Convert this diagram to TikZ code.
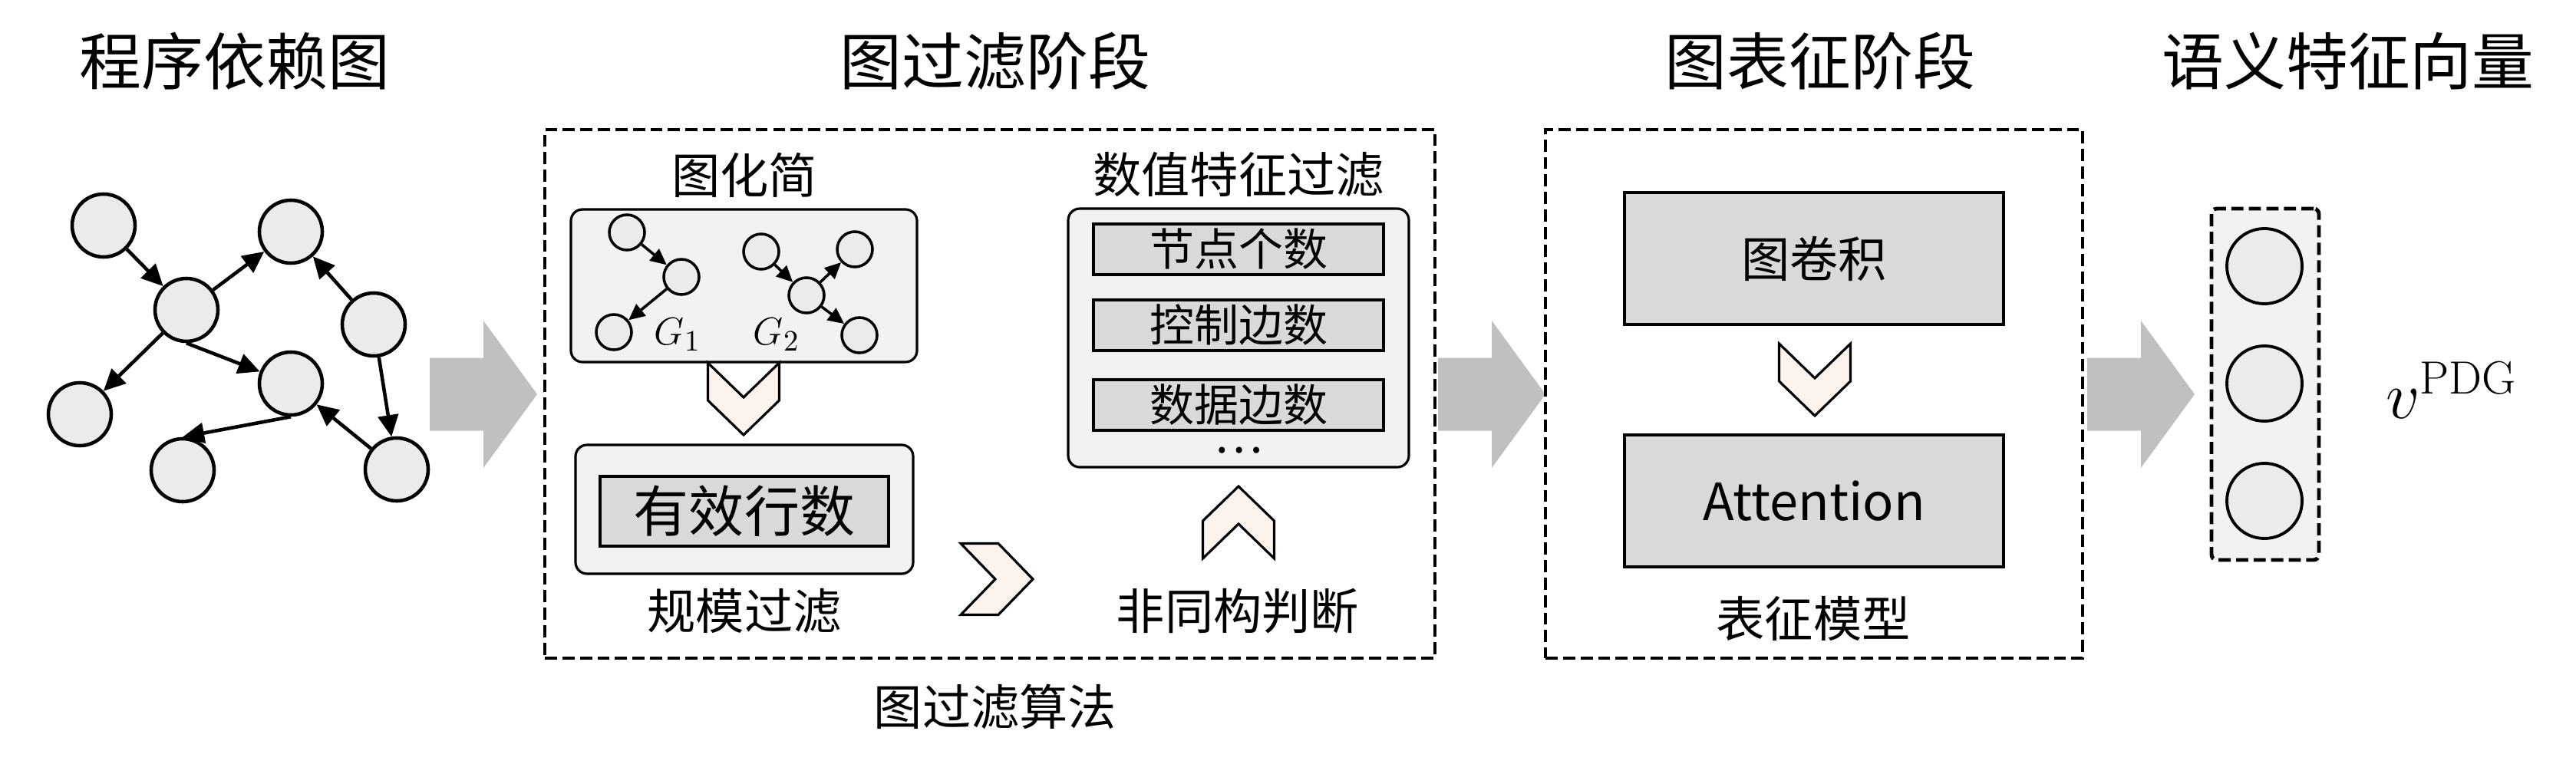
\documentclass[tikz,border=0pt]{standalone}
\usepackage[no-math]{fontspec}
\setmainfont{Noto Sans CJK SC}
\usepackage{tikz}
\usetikzlibrary{arrows.meta}
\definecolor{vertexgray}{RGB}{235,235,235}
\definecolor{panelgray}{RGB}{242,242,242}
\definecolor{cellgray}{RGB}{217,217,217}
\definecolor{fatgray}{RGB}{192,191,193}
\definecolor{chevcream}{RGB}{251,243,236}
\tikzset{vertex/.style={draw, circle, fill=vertexgray, line width=1.3pt, minimum size=0.82cm, inner sep=0}}
\tikzset{small vertex/.style={draw, circle, fill=vertexgray, line width=1pt, minimum size=0.46cm, inner sep=0}}
\tikzset{out vertex/.style={draw, circle, fill=vertexgray, line width=1.1pt, minimum size=0.98cm, inner sep=0}}
\tikzset{stage box/.style={draw, line width=1.4pt, dash pattern=on 4.5pt off 2pt, inner sep=0}}
\tikzset{panel/.style={draw, fill=panelgray, rounded corners=0.15cm, line width=0.9pt, inner sep=0}}
\tikzset{cell/.style={draw, fill=cellgray, line width=0.9pt, inner sep=0}}
\tikzset{title/.style={font=\fontsize{23}{28}\selectfont}}
\tikzset{caption/.style={font=\fontsize{18}{22}\selectfont}}
\tikzset{link/.style={-{Triangle[length=8pt, width=7.5pt]}, line width=1.3pt}}
\tikzset{small link/.style={-{Triangle[length=6pt, width=5.5pt]}, line width=1pt}}
\tikzset{chevron/.pic={\draw[fill=chevcream, line width=0.9pt] (-0.465, 0.47) -- (-0.465, -0.02) -- (0, -0.47) -- (0.465, -0.02) -- (0.465, 0.47) -- (0, 0.02) -- cycle;}}
\tikzset{fat arrow/.pic={\fill[fatgray] (0, 0.475) -- (0.7, 0.475) -- (0.7, 0.96) -- (1.4, 0) -- (0.7, -0.96) -- (0.7, -0.475) -- (0, -0.475) -- cycle;}}

\begin{document}
\begin{tikzpicture}
  \useasboundingbox (0, 0) rectangle (33.57, -9.96);

  \node[title] at (3.06, -0.80) (pdgtitle) {程序依赖图};
  \node[title] at (12.97, -0.80) (filtertitle) {图过滤阶段};
  \node[title] at (23.72, -0.80) (reprtitle) {图表征阶段};
  \node[title] at (30.60, -0.80) (vectitle) {语义特征向量};

  \node[vertex] at (1.35, -2.94) (n1) {};
  \node[vertex] at (2.43, -4.04) (n2) {};
  \node[vertex] at (3.79, -3.02) (n3) {};
  \node[vertex] at (4.87, -4.23) (n4) {};
  \node[vertex] at (1.04, -5.40) (n5) {};
  \node[vertex] at (3.79, -5.00) (n6) {};
  \node[vertex] at (2.38, -6.13) (n7) {};
  \node[vertex] at (5.17, -6.12) (n8) {};

    \draw (n1) edge[link] (n2);
    \draw (n2) edge[link] (n3);
    \draw (n2) edge[link] (n5);
    \draw (n2.south) edge[link] (n6);
    \draw (n4) edge[link] (n3);
    \draw (n4) edge[link] (n8);
    \draw (n8) edge[link] (n6);
    \draw (n6.south) edge[link] (n7.north);

  \pic at (5.60, -5.14) {fat arrow};
  \pic at (18.74, -5.14) {fat arrow};
  \pic at (27.20, -5.14) {fat arrow};

  \node[stage box, minimum width=11.60cm, minimum height=6.89cm] at (12.90, -5.135) (filter) {};
  \node[caption] at (12.97, -9.21) (filteralgo) {图过滤算法};

  \node[caption] at (9.70, -2.28) (simptitle) {图化简};
  \node[panel, minimum width=4.51cm, minimum height=1.99cm] at (9.695, -3.725) (simp) {};
  \node[small vertex] at (8.17, -3.03) (ga) {};
  \node[small vertex] at (8.88, -3.61) (gb) {};
  \node[small vertex] at (8.00, -4.33) (gc) {};
  \node[small vertex] at (9.92, -3.28) (gd) {};
  \node[small vertex] at (10.51, -3.85) (ge) {};
  \node[small vertex] at (11.14, -3.25) (gf) {};
  \node[small vertex] at (11.20, -4.37) (gg) {};
  \node[font=\fontsize{15}{18}\selectfont] at (8.83, -4.36) (gone) {$G_1$};
  \node[font=\fontsize{15}{18}\selectfont] at (10.12, -4.36) (gtwo) {$G_2$};

    \draw (ga) edge[small link] (gb);
    \draw (gb) edge[small link] (gc);
    \draw (gd) edge[small link] (ge);
    \draw (ge) edge[small link] (gf);
    \draw (ge) edge[small link] (gg);

  \pic at (9.69, -5.20) {chevron};

  \node[panel, minimum width=4.40cm, minimum height=1.68cm] at (9.70, -6.64) (scale) {};
  \node[cell, minimum width=3.76cm, minimum height=0.91cm, font=\fontsize{20.5}{24}\selectfont] at (9.70, -6.665) (lines) {有效行数};
  \node[caption] at (9.70, -7.97) (scaletitle) {规模过滤};

  \pic[rotate=90] at (12.99, -7.55) {chevron};

  \node[caption] at (16.14, -2.28) (numtitle) {数值特征过滤};
  \node[panel, minimum width=4.44cm, minimum height=3.37cm] at (16.14, -4.405) (num) {};
  \node[cell, minimum width=3.78cm, minimum height=0.66cm, font=\fontsize{16.5}{20}\selectfont] at (16.14, -3.25) (nodecount) {节点个数};
  \node[cell, minimum width=3.78cm, minimum height=0.66cm, font=\fontsize{16.5}{20}\selectfont] at (16.14, -4.24) (ctrlcount) {控制边数};
  \node[cell, minimum width=3.78cm, minimum height=0.66cm, font=\fontsize{16.5}{20}\selectfont] at (16.14, -5.28) (datacount) {数据边数};
  \node[font=\fontsize{17}{20}\selectfont, inner sep=0, anchor=base] at (16.14, -5.90) (more) {\dots};

  \pic[rotate=180] at (16.14, -6.81) {chevron};
  \node[caption] at (16.13, -7.97) (isotitle) {非同构判断};

  \node[stage box, minimum width=7.00cm, minimum height=6.89cm] at (23.64, -5.135) (repr) {};
  \node[cell, minimum width=4.94cm, minimum height=1.72cm, caption] at (23.64, -3.37) (conv) {图卷积};
  \pic at (23.65, -4.95) {chevron};
  \node[cell, minimum width=4.94cm, minimum height=1.72cm, font=\fontsize{19}{23}\selectfont] at (23.64, -6.53) (att) {Attention};
  \node[caption] at (23.63, -8.06) (modeltitle) {表征模型};

  \node[stage box, fill=panelgray, rounded corners=2pt, minimum width=1.40cm, minimum height=4.58cm] at (29.52, -5.01) (vec) {};
  \node[out vertex] at (29.51, -3.47) (v1) {};
  \node[out vertex] at (29.51, -5.00) (v2) {};
  \node[out vertex] at (29.51, -6.53) (v3) {};
  \node[font=\fontsize{25}{30}\selectfont] at (31.95, -5.09) (vpdg) {$v^{\mathrm{PDG}}$};
\end{tikzpicture}
\end{document}
